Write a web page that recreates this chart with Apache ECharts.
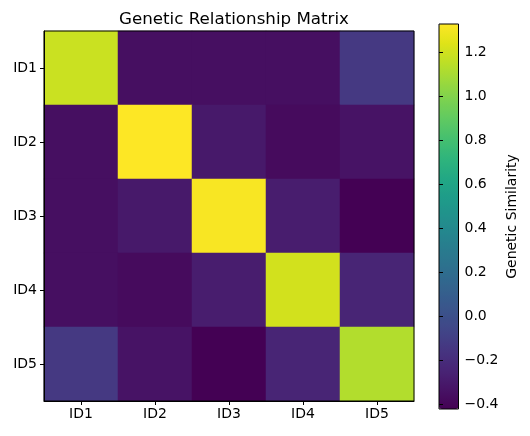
<!DOCTYPE html>
<html lang="en">

<head>
  <meta charset="UTF-8" />
  <title>Genetic Relationship Matrix</title>
  <script src="https://cdn.jsdelivr.net/npm/echarts@6/dist/echarts.min.js"></script>
  <style>
    html, body { margin: 0; padding: 0; background: #fff; }
  </style>
</head>

<body>
  <div id="main" style="width: 530px;height:436px;"></div>
  <script type="text/javascript">
    // 个体编号
    var ids = ['ID1', 'ID2', 'ID3', 'ID4', 'ID5']
    // 亲缘关系矩阵（每行一个个体）
    var rowID1 = [1.185, -0.352, -0.352, -0.352, -0.133]
    var rowID2 = [-0.352, 1.327, -0.304, -0.373, -0.332]
    var rowID3 = [-0.352, -0.304, 1.312, -0.284, -0.421]
    var rowID4 = [-0.352, -0.373, -0.284, 1.206, -0.243]
    var rowID5 = [-0.133, -0.332, -0.421, -0.243, 1.124]
    var matrix = [rowID1, rowID2, rowID3, rowID4, rowID5]
    // 色条刻度
    var barTicks = [-0.4, -0.2, 0.0, 0.2, 0.4, 0.6, 0.8, 1.0, 1.2]

    var viridis = ['#440154', '#471365', '#482475', '#463480', '#414487', '#3b528b',
      '#355f8d', '#2f6c8e', '#2a788e', '#25848e', '#21918c', '#1e9c89', '#22a884',
      '#2fb47c', '#44bf70', '#5ec962', '#7ad151', '#9bd93c', '#bddf26', '#dfe318', '#fde725']

    var all = [].concat.apply([], matrix)
    var vMin = Math.min.apply(null, all)
    var vMax = Math.max.apply(null, all)

    var data = []
    matrix.forEach(function (row, r) {
      row.forEach(function (v, c) { data.push([c, r, v]) })
    })

    var fmt = function (v) { return v.toFixed(1).replace('-', '\u2212') }
    var font = 'DejaVu Sans'
    var tick = { show: true, alignWithLabel: true, inside: false, length: 4, lineStyle: { color: '#000', width: 1 } }
    var line = { show: true, onZero: false, lineStyle: { color: '#000', width: 1 } }

    var myChart = echarts.init(document.getElementById('main'))
    var option = {
      animation: false,
      backgroundColor: '#fff',
      textStyle: { fontFamily: font },
      title: {
        text: 'Genetic Relationship Matrix',
        left: 229, top: 6, textAlign: 'center',
        textStyle: { fontFamily: font, fontSize: 16.7, fontWeight: 'normal', color: '#000' }
      },
      grid: [
        // 单元格取整数像素，避免格子之间出现细缝
        { left: 44, top: 31, width: 370, height: 370, show: true, z: 10,
          backgroundColor: 'transparent', borderColor: '#000', borderWidth: 1 },
        { left: 439, top: 24, width: 19.5, height: 385, show: true, z: 10,
          backgroundColor: 'transparent', borderColor: '#000', borderWidth: 1 }
      ],
      xAxis: [
        { type: 'category', data: ids, gridIndex: 0, z: 12,
          axisLine: line, axisTick: tick,
          axisLabel: { color: '#000', fontSize: 14, fontFamily: font, margin: 6 },
          splitLine: { show: false } },
        { type: 'value', gridIndex: 1, show: false, min: 0, max: 1 }
      ],
      yAxis: [
        { type: 'category', data: ids, gridIndex: 0, inverse: true, z: 12,
          axisLine: line, axisTick: tick,
          axisLabel: { color: '#000', fontSize: 14, fontFamily: font, margin: 7 },
          splitLine: { show: false } },
        { type: 'value', gridIndex: 1, position: 'right', min: vMin, max: vMax, z: 12,
          name: 'Genetic Similarity', nameLocation: 'middle', nameRotate: 90, nameGap: 47,
          nameTextStyle: { color: '#000', fontSize: 14, fontFamily: font },
          axisLine: { show: false },
          axisTick: { show: true, inside: false, length: 4, lineStyle: { color: '#000' }, customValues: barTicks },
          axisLabel: { color: '#000', fontSize: 14, fontFamily: font, margin: 6,
            customValues: barTicks, formatter: fmt },
          splitLine: { show: false } }
      ],
      visualMap: {
        type: 'continuous', min: vMin, max: vMax, calculable: false,
        seriesIndex: 0, orient: 'vertical', left: 439, top: 24, padding: 0,
        itemWidth: 19.5, itemHeight: 385, text: null, showLabel: false,
        hoverLink: false, inRange: { color: viridis }
      },
      series: [{
        type: 'heatmap', xAxisIndex: 0, yAxisIndex: 0, data: data,
        itemStyle: { borderWidth: 0 },
        emphasis: { disabled: true }
      }]
    }
    myChart.setOption(option)
  </script>
</body>

</html>
